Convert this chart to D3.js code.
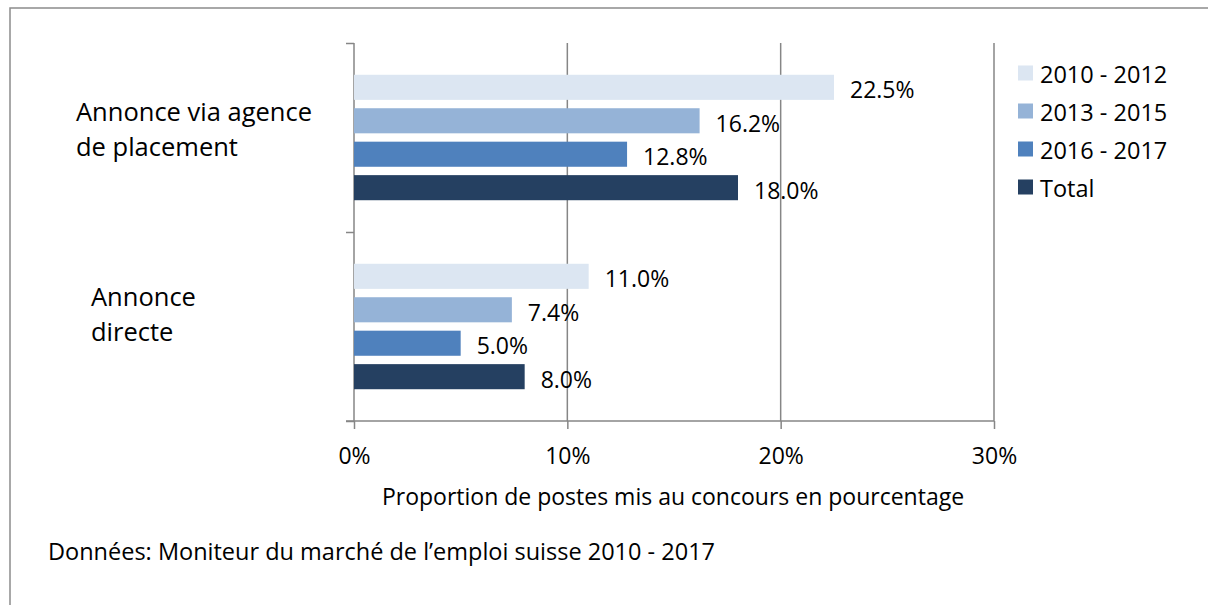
<!DOCTYPE html>
<html>
<head>
<meta charset="utf-8">
<script src="https://cdn.jsdelivr.net/npm/d3@7"></script>
<style>
  body { margin: 0; background: #fff; }
  text { font-family: "Open Sans", sans-serif; fill: #000; }
</style>
</head>
<body>
<div id="chart"></div>
<script>
const categories = ['Annonce via agence de placement', 'Annonce directe'];
const series = ['2010 - 2012', '2013 - 2015', '2016 - 2017', 'Total'];
const values = {
  '2010 - 2012': [22.5, 11.0],
  '2013 - 2015': [16.2, 7.4],
  '2016 - 2017': [12.8, 5.0],
  'Total': [18.0, 8.0],
};
const xTicks = [0, 10, 20, 30];
const colors = ['#DCE6F2', '#95B3D7', '#4F81BD', '#254061'];

const width = 1208;
const height = 605;

const svg = d3
  .select('#chart')
  .append('svg')
  .attr('width', width)
  .attr('height', height);

// outer frame, running off the right and bottom edges
svg.append('rect')
  .attr('x', 10).attr('y', 8)
  .attr('width', 1400).attr('height', 800)
  .attr('fill', 'none')
  .attr('stroke', '#8c8c8c')
  .attr('stroke-width', 1.5);

const plot = { left: 354, right: 994, top: 43, bottom: 421 };

const xScale = d3.scaleLinear().domain([0, 30]).range([plot.left, plot.right]);
const yCat = d3.scaleBand().domain(categories).range([plot.top, plot.bottom]);
const ySer = d3.scaleBand().domain(series).range([0, yCat.bandwidth()])
  .paddingInner(0.25).paddingOuter(0.95);
const color = d3.scaleOrdinal().domain(series).range(colors);

/**
 * grid and axes
 */
const gridColor = '#868686';

svg.selectAll('.grid')
  .data(xTicks.slice(1))
  .enter()
  .append('line')
  .attr('x1', d => xScale(d)).attr('x2', d => xScale(d))
  .attr('y1', plot.top).attr('y2', plot.bottom)
  .attr('stroke', gridColor)
  .attr('stroke-width', 1.5);

const xAxis = d3.axisBottom(xScale)
  .tickValues(xTicks)
  .tickSize(8)
  .tickPadding(19)
  .tickFormat(d => d + '%');

const gx = svg.append('g')
  .attr('transform', `translate(0,${plot.bottom})`)
  .call(xAxis);
gx.select('.domain').remove();
gx.selectAll('line').attr('stroke', gridColor).attr('stroke-width', 1.5);
gx.selectAll('text').style('font-size', '23px').style('font-family', '"Open Sans", sans-serif').attr('fill', '#000');

svg.append('line')
  .attr('x1', plot.left - 8).attr('x2', plot.right)
  .attr('y1', plot.bottom).attr('y2', plot.bottom)
  .attr('stroke', gridColor).attr('stroke-width', 1.5);

const yAxis = d3.axisLeft(d3.scaleLinear().domain([0, 2]).range([plot.top, plot.bottom]))
  .tickValues([0, 1, 2])
  .tickSize(8)
  .tickFormat('');
const gy = svg.append('g')
  .attr('transform', `translate(${plot.left},0)`)
  .call(yAxis);
gy.select('.domain').remove();
gy.selectAll('line').attr('stroke', gridColor).attr('stroke-width', 1.5);

svg.append('line')
  .attr('x1', plot.left).attr('x2', plot.left)
  .attr('y1', plot.top).attr('y2', plot.bottom)
  .attr('stroke', gridColor).attr('stroke-width', 1.5);

/**
 * bars
 */
const rows = [];
categories.forEach((c, ci) => {
  series.forEach(s => rows.push({ cat: c, ser: s, value: values[s][ci] }));
});

svg.selectAll('.bar')
  .data(rows)
  .enter()
  .append('rect')
  .attr('x', xScale(0))
  .attr('y', d => yCat(d.cat) + ySer(d.ser))
  .attr('width', d => xScale(d.value) - xScale(0))
  .attr('height', ySer.bandwidth())
  .attr('fill', d => color(d.ser));

svg.selectAll('.label')
  .data(rows)
  .enter()
  .append('text')
  .attr('x', d => xScale(d.value) + 16)
  .attr('y', d => yCat(d.cat) + ySer(d.ser) + ySer.bandwidth() / 2 + 2)
  .attr('dominant-baseline', 'central')
  .style('font-size', '23px')
  .text(d => d.value.toFixed(1) + '%');

// category labels
const catLabels = [
  { lines: ['Annonce via agence', 'de placement'], x: 76, y: 121 },
  { lines: ['Annonce', 'directe'], x: 91, y: 306 },
];
catLabels.forEach(l => {
  const t = svg.append('text').attr('x', l.x).attr('y', l.y).style('font-size', '25.5px');
  l.lines.forEach((line, i) => {
    t.append('tspan').attr('x', l.x).attr('dy', i === 0 ? 0 : 35).text(line);
  });
});

/**
 * legend
 */
const legend = svg.selectAll('.legend')
  .data(series)
  .enter()
  .append('g')
  .attr('transform', (d, i) => `translate(1018,${73 + i * 38})`);

legend.append('rect')
  .attr('x', 0).attr('y', -7.5)
  .attr('width', 15).attr('height', 15)
  .attr('fill', d => color(d));

legend.append('text')
  .attr('x', 22).attr('y', 1)
  .attr('dominant-baseline', 'central')
  .style('font-size', '23.5px')
  .text(d => d);

// axis title and source
svg.append('text')
  .attr('x', 673).attr('y', 505)
  .attr('text-anchor', 'middle')
  .style('font-size', '23px')
  .text('Proportion de postes mis au concours en pourcentage');

svg.append('text')
  .attr('x', 48).attr('y', 560)
  .style('font-size', '23.5px')
  .text('Données: Moniteur du marché de l’emploi suisse 2010 - 2017');
</script>
</body>
</html>
